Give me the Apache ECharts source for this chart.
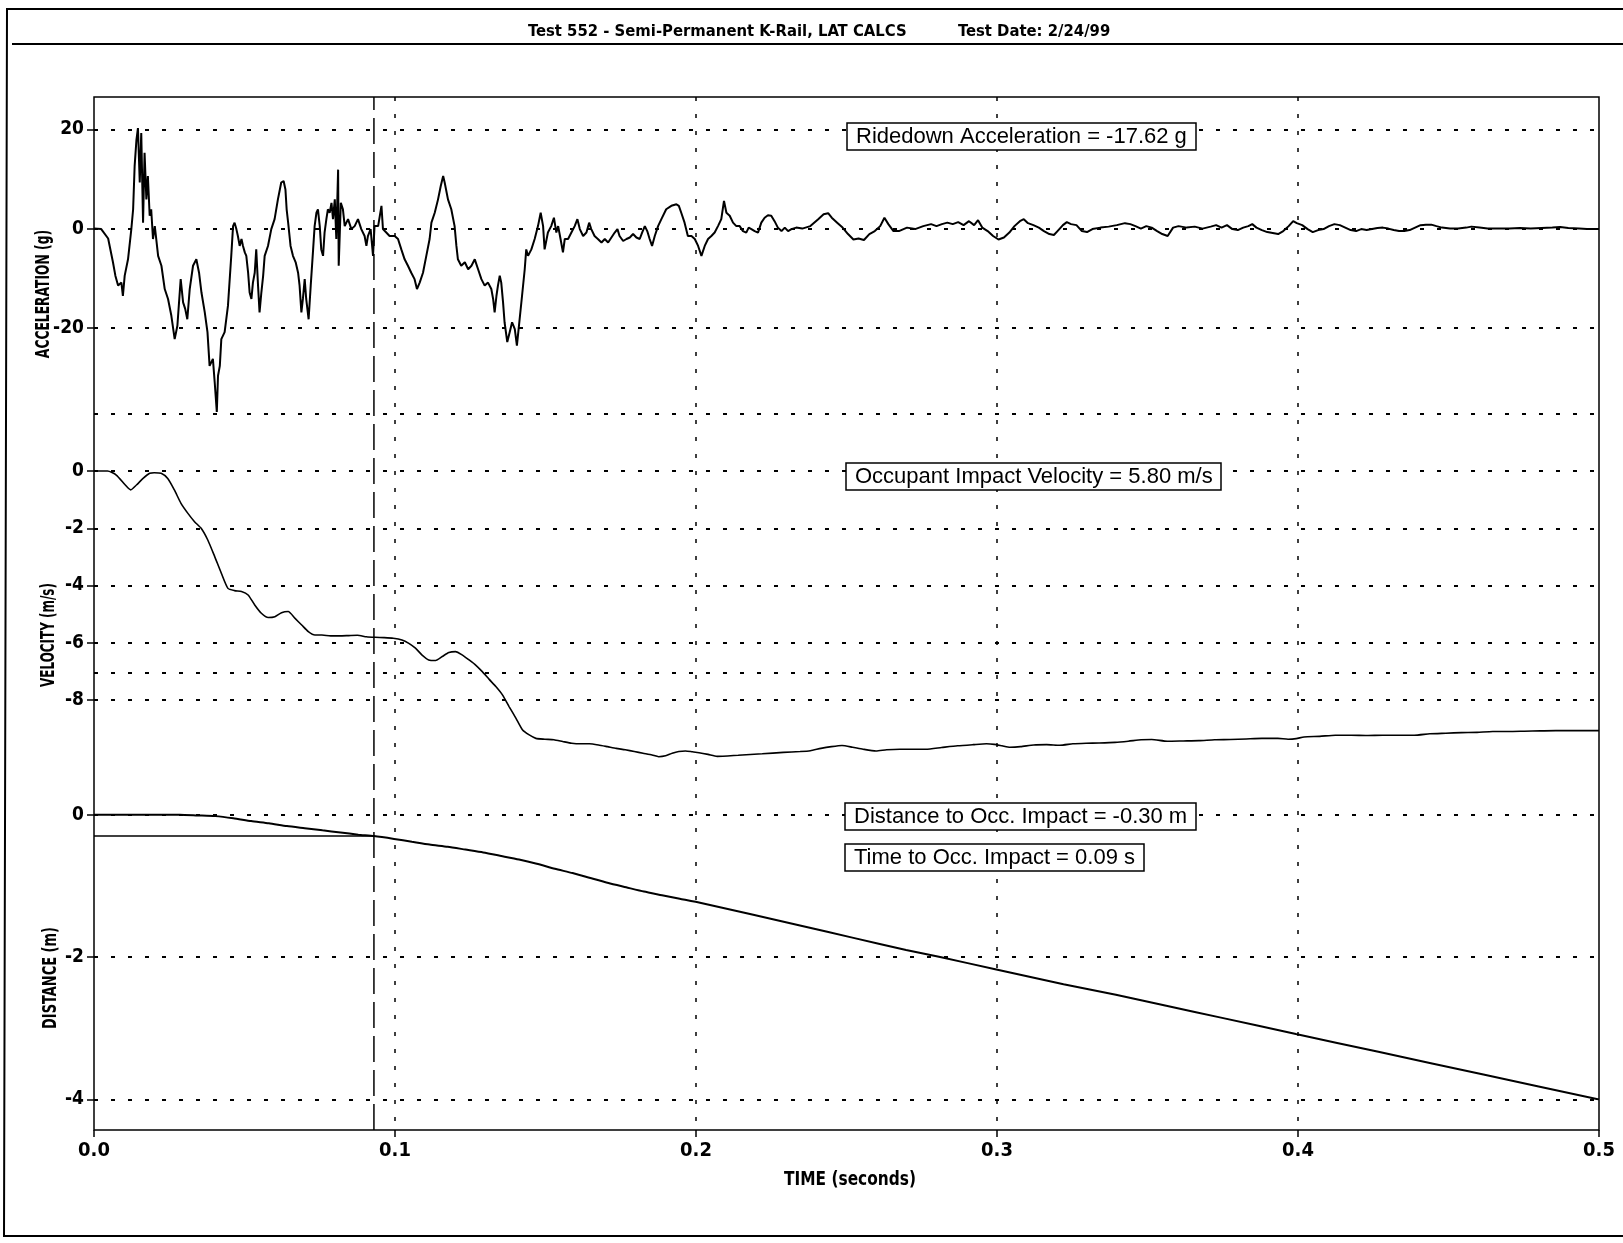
<!DOCTYPE html>
<html><head><meta charset="utf-8">
<script src="https://cdn.jsdelivr.net/npm/echarts@6/dist/echarts.min.js"></script>
<style>html,body{margin:0;padding:0;background:#fff}#chart{width:1623px;height:1243px}</style>
</head><body><div id="chart"></div>
<script>
// ---------- DATA ----------
const timeTicks = [0, 0.1, 0.2, 0.3, 0.4, 0.5];
const accTicks = [20, 0, -20];
const velTicks = [0, -2, -4, -6, -8];
const distTicks = [0, -2, -4];
const timeToImpact = 0.093;           // s (dashed vertical line)
const distanceToImpact = -0.30;       // m (horizontal reference line)

// Acceleration (g) vs time (s)
const accPoints = [
[0,0],[0.0024,-0.1],[0.0047,-2.0],[0.0063,-6.8],[0.0071,-9.5],[0.0080,-11.5],[0.0091,-10.9],[0.0096,-13.6],[0.0102,-9.5],[0.0113,-6.2],
[0.0124,-0.1],[0.0130,3.9],[0.0135,12.6],[0.0141,17.9],[0.0146,20.3],[0.0152,9.3],[0.0157,19.3],[0.0163,1.2],[0.0168,15.3],[0.0174,5.9],
[0.0179,10.6],[0.0185,2.6],[0.0190,3.9],[0.0196,-2.1],[0.0202,0.5],[0.0213,-5.5],[0.0224,-7.5],[0.0235,-12.2],[0.0246,-14.2],[0.0257,-17.6],
[0.0268,-22.3],[0.0277,-19.6],[0.0288,-10.2],[0.0296,-14.9],[0.0303,-16.2],[0.0310,-18.3],[0.0318,-12.2],[0.0329,-7.5],[0.0340,-6.2],[0.0349,-8.9],
[0.0357,-12.9],[0.0368,-16.9],[0.0377,-20.9],[0.0384,-27.7],[0.0395,-26.3],[0.0401,-31.0],[0.0408,-37.0],[0.0412,-29.7],[0.0418,-27.7],[0.0423,-22.3],
[0.0434,-20.9],[0.0445,-15.6],[0.0456,-5.5],[0.0462,0.5],[0.0467,1.2],[0.0473,-0.1],[0.0478,-1.5],[0.0484,-3.5],[0.0490,-2.1],[0.0495,-3.5],
[0.0501,-4.8],[0.0506,-5.5],[0.0512,-8.9],[0.0517,-12.9],[0.0523,-14.2],[0.0528,-10.9],[0.0534,-8.9],[0.0539,-4.2],[0.0545,-11.5],[0.0550,-16.9],
[0.0556,-12.9],[0.0562,-9.5],[0.0567,-5.5],[0.0573,-5.5],[0.0578,-3.5],[0.0589,-0.1],[0.0600,1.9],[0.0611,5.9],[0.0622,9.3],[0.0630,9.6],
[0.0636,7.9],[0.0640,3.9],[0.0645,1.2],[0.0653,-3.5],[0.0661,-5.5],[0.0670,-6.8],[0.0678,-8.9],[0.0683,-11.5],[0.0689,-16.9],[0.0694,-14.2],
[0.0700,-10.2],[0.0705,-14.2],[0.0713,-18.3],[0.0720,-11.5],[0.0728,-4.2],[0.0733,0.5],[0.0739,3.2],[0.0744,3.9],[0.0750,0.5],[0.0755,-4.2],
[0.0761,-5.5],[0.0766,-0.8],[0.0772,1.9],[0.0777,3.9],[0.0783,3.2],[0.0789,5.2],[0.0794,1.9],[0.0800,5.9],[0.0805,-2.1],[0.0811,11.9],
[0.0813,-7.5],[0.0820,5.2],[0.0827,3.9],[0.0833,0.5],[0.0844,1.9],[0.0855,-0.1],[0.0866,0.5],[0.0877,1.9],[0.0888,-0.1],[0.0899,-1.5],
[0.0905,-3.5],[0.0910,-1.5],[0.0919,-0.1],[0.0927,-5.5],[0.0932,0.5],
[0.0944,0.5],[0.0955,4.6],[0.0960,-0.1],[0.0971,-0.8],[0.0982,-1.5],[0.0999,-1.5],[0.1010,-2.1],[0.1021,-4.2],[0.1032,-6.2],[0.1043,-7.5],
[0.1054,-8.9],[0.1065,-10.2],[0.1073,-12.2],[0.1082,-10.9],[0.1093,-8.9],[0.1104,-5.5],[0.1115,-2.1],[0.1121,1.2],[0.1132,3.2],[0.1143,5.9],
[0.1152,8.6],[0.1160,10.6],[0.1165,9.3],[0.1176,5.9],[0.1187,3.9],[0.1198,0.5],[0.1204,-3.5],[0.1209,-6.2],[0.1220,-7.5],[0.1232,-6.8],
[0.1243,-8.2],[0.1254,-7.5],[0.1265,-6.2],[0.1276,-8.2],[0.1287,-10.2],[0.1298,-11.5],[0.1309,-10.9],[0.1320,-12.2],[0.1326,-14.2],[0.1331,-16.9],
[0.1337,-13.6],[0.1342,-11.5],[0.1348,-9.5],[0.1353,-10.9],[0.1359,-14.9],[0.1364,-18.9],[0.1373,-22.9],[0.1381,-20.9],[0.1389,-18.9],[0.1398,-20.3],
[0.1405,-23.6],[0.1414,-18.3],[0.1422,-13.6],[0.1431,-8.2],[0.1436,-4.2],[0.1442,-5.5],[0.1453,-4.2],[0.1464,-2.1],[0.1475,0.5],[0.1484,3.2],
[0.1492,0.5],[0.1497,-4.2],[0.1508,-0.8],[0.1519,0.5],[0.1528,2.2],[0.1536,-0.8],[0.1542,0.5],[0.1550,-2.1],[0.1558,-4.8],[0.1564,-2.1],
[0.1575,-2.1],[0.1586,-0.8],[0.1597,0.5],[0.1606,1.9],[0.1614,-0.1],[0.1625,-1.5],[0.1636,-0.8],[0.1645,1.2],[0.1652,-0.1],[0.1663,-1.5],
[0.1674,-2.1],[0.1686,-2.8],[0.1697,-2.1],[0.1708,-2.8],[0.1719,-1.8],[0.1730,-0.8],[0.1739,-0.1],[0.1746,-1.5],[0.1758,-2.5],[0.1769,-2.1],
[0.1780,-1.8],[0.1791,-1.1],[0.1802,-1.8],[0.1813,-2.1],[0.1821,-0.8],[0.1830,0.5],[0.1838,-0.5],[0.1846,-2.1],[0.1854,-3.5],[0.1863,-1.5],
[0.1874,0.5],[0.1885,1.9],[0.1901,3.9],[0.1918,4.6],[0.1935,4.9],[0.1943,4.6],[0.1951,3.2],[0.1962,1.2],[0.1973,-1.5],[0.1985,-1.5],
[0.1996,-2.1],[0.2007,-3.5],[0.2018,-5.5],[0.2029,-3.5],[0.2040,-2.1],[0.2051,-1.5],[0.2062,-0.8],[0.2073,0.5],[0.2084,1.9],[0.2093,5.6],
[0.2101,3.2],[0.2112,2.6],[0.2123,1.2],[0.2134,0.5],[0.2145,0.5],[0.2156,-0.5],[0.2167,-0.8],[0.2175,0.2],[0.2184,-0.1],[0.2195,-0.5],
[0.2206,-0.8],[0.2217,1.2],[0.2228,2.2],[0.2239,2.7],[0.2250,2.6],[0.2261,1.5],[0.2272,0.2],[0.2284,-0.5],[0.2295,0.2],[0.2306,-0.5],
[0.2317,-0.1],[0.2333,0.2],
[0.2353,0],[0.2380,0.5],[0.2406,1.9],[0.2424,2.9],[0.2439,3.1],[0.2451,2.2],[0.2469,1.2],[0.2487,0.2],[0.2505,-1.1],[0.2523,-2.2],
[0.2540,-2.0],[0.2558,-2.3],[0.2576,-1.1],[0.2594,-0.5],[0.2612,0.5],[0.2626,2.2],[0.2639,0.9],[0.2656,-0.5],[0.2674,-0.5],[0.2701,0.2],
[0.2728,-0.1],[0.2755,0.5],[0.2781,0.9],[0.2799,0.5],[0.2817,0.9],[0.2835,1.2],[0.2853,0.9],[0.2871,1.3],[0.2889,0.7],[0.2907,1.5],
[0.2924,0.7],[0.2937,1.7],[0.2951,0.2],[0.2969,-0.5],[0.2987,-1.5],[0.3005,-2.2],[0.3023,-1.8],[0.3041,-0.8],[0.3058,0.5],[0.3076,1.5],
[0.3089,1.9],[0.3103,1.1],[0.3121,0.7],[0.3139,0.2],[0.3156,-0.5],[0.3174,-1.1],[0.3189,-1.3],[0.3201,-0.5],[0.3219,0.7],[0.3232,1.3],
[0.3246,0.9],[0.3264,0.7],[0.3282,-0.5],[0.3299,-0.7],[0.3317,-0.1],[0.3344,0.2],[0.3371,0.4],[0.3398,0.7],[0.3425,1.1],[0.3443,0.9],
[0.3460,0.5],[0.3478,0],[0.3496,0.5],[0.3514,0.2],[0.3532,-0.5],[0.3549,-1.1],[0.3567,-1.5],[0.3585,0.2],[0.3603,0.5],[0.3630,0.2],
[0.3657,0.4],[0.3683,0],[0.3710,0.4],[0.3728,0.7],[0.3746,0.2],[0.3764,0.7],[0.3782,-0.1],[0.3800,-0.3],[0.3818,0.2],[0.3835,0.5],
[0.3848,0.9],[0.3862,0.2],[0.3880,-0.3],[0.3898,-0.7],[0.3916,-0.9],[0.3934,-1.1],[0.3951,-0.5],[0.3969,0.5],[0.3984,1.5],[0.3996,1.1],
[0.4014,0.7],[0.4032,-0.1],[0.4049,-0.7],[0.4067,-0.3],[0.4085,-0.1],[0.4103,0.5],[0.4121,0.9],[0.4139,0.7],[0.4157,0.2],[0.4175,-0.3],
[0.4193,-0.5],[0.4210,-0.1],[0.4228,-0.3],[0.4246,-0.1],[0.4264,0.1],[0.4282,0.2],[0.4300,0],[0.4318,-0.3],[0.4336,-0.5],[0.4353,-0.5],
[0.4371,-0.3],[0.4389,0.2],[0.4407,0.7],[0.4425,0.8],[0.4443,0.8],[0.4460,0.5],[0.4478,0.2],[0.4505,0],[0.4532,0],[0.4559,0.2],
[0.4576,0.4],[0.4603,0.2],[0.4630,0],[0.4666,0],[0.4702,0],[0.4737,0.1],[0.4773,0],[0.4809,0.1],[0.4845,0.2],[0.4871,0.3],
[0.4898,0.1],[0.4934,0],[0.4960,-0.1],[0.4986,-0.1],[0.5,-0.1]
];

// Velocity (m/s) vs time (s)
const velPoints = [
[0,0],[0.0045,0],[0.0074,-0.14],[0.0104,-0.49],[0.0122,-0.66],[0.0141,-0.49],[0.0163,-0.26],[0.0185,-0.08],[0.0200,-0.06],[0.0223,-0.08],
[0.0245,-0.26],[0.0267,-0.66],[0.0289,-1.13],[0.0312,-1.48],[0.0334,-1.77],[0.0356,-2.00],[0.0378,-2.41],[0.0401,-2.99],[0.0423,-3.57],[0.0445,-4.10],
[0.0467,-4.18],[0.0490,-4.21],[0.0512,-4.33],[0.0534,-4.68],[0.0556,-4.97],[0.0579,-5.12],[0.0601,-5.09],[0.0623,-4.95],[0.0645,-4.91],[0.0668,-5.15],
[0.0690,-5.38],[0.0712,-5.61],[0.0734,-5.73],[0.0757,-5.73],[0.0786,-5.76],[0.0816,-5.76],[0.0846,-5.75],[0.0875,-5.74],[0.0905,-5.79],[0.0934,-5.81],
[0.0964,-5.82],[0.0994,-5.84],[0.1023,-5.90],[0.1046,-6.02],[0.1068,-6.19],[0.1090,-6.43],[0.1112,-6.60],[0.1135,-6.62],[0.1157,-6.48],[0.1179,-6.34],
[0.1201,-6.31],[0.1224,-6.43],[0.1246,-6.60],[0.1268,-6.78],[0.1290,-7.01],[0.1313,-7.28],[0.1335,-7.53],[0.1357,-7.82],[0.1379,-8.23],[0.1402,-8.64],
[0.1424,-9.05],[0.1446,-9.22],[0.1468,-9.34],[0.1498,-9.37],[0.1528,-9.39],[0.1557,-9.45],[0.1587,-9.51],[0.1617,-9.53],[0.1646,-9.53],[0.1676,-9.57],
[0.1706,-9.63],[0.1735,-9.69],[0.1765,-9.74],[0.1795,-9.80],[0.1824,-9.86],[0.1854,-9.92],[0.1876,-9.98],[0.1899,-9.95],[0.1921,-9.86],[0.1943,-9.80],
[0.1965,-9.78],[0.1988,-9.81],[0.2010,-9.84],[0.2040,-9.90],[0.2070,-9.97],[0.2140,-9.93],[0.2220,-9.88],[0.2290,-9.83],
[0.2346,-9.80],[0.2380,-9.77],[0.2415,-9.69],[0.2450,-9.63],[0.2485,-9.59],[0.2520,-9.65],[0.2555,-9.72],[0.2598,-9.78],[0.2633,-9.74],[0.2677,-9.72],
[0.2721,-9.72],[0.2764,-9.72],[0.2816,-9.66],[0.2869,-9.60],[0.2921,-9.56],[0.2965,-9.53],[0.2991,-9.55],[0.3017,-9.60],[0.3043,-9.65],[0.3078,-9.63],
[0.3122,-9.57],[0.3165,-9.56],[0.3209,-9.58],[0.3252,-9.53],[0.3296,-9.51],[0.3339,-9.50],[0.3392,-9.48],[0.3436,-9.44],[0.3479,-9.39],[0.3514,-9.38],
[0.3566,-9.44],[0.3619,-9.43],[0.3671,-9.42],[0.3723,-9.39],[0.3775,-9.38],[0.3828,-9.36],[0.3880,-9.34],[0.3933,-9.34],[0.3967,-9.37],[0.3994,-9.35],
[0.4020,-9.29],[0.4072,-9.27],[0.4124,-9.23],[0.4177,-9.23],[0.4229,-9.24],[0.4281,-9.23],[0.4334,-9.23],[0.4386,-9.23],[0.4438,-9.18],[0.4491,-9.16],
[0.4543,-9.14],[0.4595,-9.13],[0.4647,-9.10],[0.4700,-9.10],[0.4752,-9.09],[0.4805,-9.08],[0.4857,-9.07],[0.4909,-9.07],[0.4961,-9.07],[0.5,-9.07]
];

// Distance (m) vs time (s)
const distPoints = [
[0,0],[0.0285,0],[0.0344,-0.01],[0.0403,-0.02],[0.0463,-0.05],[0.0522,-0.09],[0.0581,-0.12],[0.0641,-0.16],[0.0700,-0.19],[0.0759,-0.22],
[0.0819,-0.25],[0.0878,-0.28],[0.0930,-0.30],[0.0997,-0.34],[0.1056,-0.38],[0.1115,-0.42],[0.1175,-0.45],[0.1234,-0.49],[0.1293,-0.53],[0.1353,-0.58],
[0.1412,-0.63],[0.1471,-0.69],[0.1531,-0.76],[0.1590,-0.82],[0.1649,-0.89],[0.1709,-0.96],[0.1768,-1.02],[0.1827,-1.08],[0.1887,-1.13],[0.1946,-1.18],
[0.2017,-1.24],[0.2349,-1.56],[0.2523,-1.73],[0.2698,-1.90],[0.2811,-2.00],[0.2994,-2.17],[0.3221,-2.38],[0.3395,-2.53],[0.3570,-2.69],[0.3744,-2.85],
[0.3993,-3.08],[0.4267,-3.33],[0.4616,-3.65],[0.5,-4.00]
];

// ---------- CHART ----------
const NARROW = '"Liberation Sans Narrow","DejaVu Sans Condensed","Liberation Sans",Arial,sans-serif';
const REG = '"Liberation Sans",Arial,sans-serif';
const L = 94, R = 24;
const dotted = [4, 13];

const chart = echarts.init(document.getElementById('chart'), null, {renderer: 'canvas'});

// axis that only draws the horizontal grid lines of a panel
const gridLineAxis = (idx, min, max, interval, showMin) => ({
  gridIndex: idx, type: 'value', min: min, max: max, interval: interval,
  axisLine: {show: false}, axisTick: {show: false}, axisLabel: {show: false},
  splitLine: {show: true, showMinLine: showMin, showMaxLine: true, lineStyle: {color: '#000', width: 2, type: dotted}}
});
// axis that only draws the tick marks and labels of a panel
const labelAxis = (idx, min, max, interval, ticks) => ({
  gridIndex: idx, type: 'value', min: min, max: max, interval: interval, position: 'left',
  axisLine: {show: false},
  axisTick: {show: true, length: 7, customValues: ticks, lineStyle: {color: '#000', width: 1.5}},
  axisLabel: {customValues: ticks, margin: 10, color: '#000', fontFamily: NARROW, fontWeight: 'bold', fontSize: 19,
              formatter: v => ticks.indexOf(v) >= 0 ? String(v) : ''},
  splitLine: {show: false}
});

const boxTitle = (text, left, top) => ({
  text: text, left: left, top: top, padding: [2, 9, 2, 9],
  backgroundColor: '#fff', borderColor: '#000', borderWidth: 1.5,
  textStyle: {fontFamily: REG, fontWeight: 'normal', fontSize: 22, lineHeight: 23, color: '#000'}
});

const axisTitle = (text, x, y, rotated, sx) => ({
  type: 'text', x: x, y: y, rotation: rotated ? Math.PI / 2 : 0, scaleX: sx, z: 50,
  style: {text: text, font: 'bold 19px ' + NARROW, fill: '#000', align: 'center', verticalAlign: 'middle',
          textAlign: 'center', textVerticalAlign: 'middle'}
});

const option = {
  animation: false,
  backgroundColor: '#fff',
  title: [
    {text: 'Test 552 - Semi-Permanent K-Rail, LAT CALCS', left: 528, top: 23, padding: 0,
     textStyle: {fontFamily: NARROW, fontWeight: 'bold', fontSize: 16.5, lineHeight: 17, color: '#000'}},
    {text: 'Test Date: 2/24/99', left: 958, top: 23, padding: 0,
     textStyle: {fontFamily: NARROW, fontWeight: 'bold', fontSize: 16.5, lineHeight: 17, color: '#000'}},
    boxTitle('Ridedown Acceleration = -17.62 g', 847, 123),
    boxTitle('Occupant Impact Velocity = 5.80 m/s', 846, 463),
    boxTitle('Distance to Occ. Impact = -0.30 m', 845, 803),
    boxTitle('Time to Occ. Impact = 0.09 s', 845, 844)
  ],
  grid: [
    {left: L, right: R, top: 97, bottom: 113, show: true, borderColor: '#000', borderWidth: 1.5, backgroundColor: 'transparent', outerBoundsMode: 'none', containLabel: false},
    {left: L, right: R, top: 129.5, height: 297.3, outerBoundsMode: 'none', containLabel: false},
    {left: L, right: R, top: 413.75, height: 343.5, outerBoundsMode: 'none', containLabel: false},
    {left: L, right: R, top: 672.3, height: 427.2, outerBoundsMode: 'none', containLabel: false}
  ],
  xAxis: [
    {gridIndex: 0, type: 'value', min: 0, max: 0.5, interval: 0.1,
     axisLine: {show: false},
     axisTick: {show: true, length: 7, customValues: timeTicks, lineStyle: {color: '#000', width: 1.5}},
     axisLabel: {customValues: timeTicks, margin: 11, color: '#000', fontFamily: NARROW, fontWeight: 'bold', fontSize: 20,
                 formatter: v => Number(v).toFixed(1)},
     splitLine: {show: true, showMinLine: false, showMaxLine: false, lineStyle: {color: '#000', width: 1.5, type: dotted}}},
    {gridIndex: 1, type: 'value', min: 0, max: 0.5, show: false},
    {gridIndex: 2, type: 'value', min: 0, max: 0.5, show: false},
    {gridIndex: 3, type: 'value', min: 0, max: 0.5, show: false}
  ],
  yAxis: [
    {gridIndex: 0, type: 'value', min: 0, max: 1, show: false},
    gridLineAxis(1, -40, 20, 20, false),
    gridLineAxis(2, -10, 2, 2, false),
    gridLineAxis(3, -4, 2, 2, true),
    labelAxis(1, -40, 20, 20, accTicks),
    labelAxis(2, -10, 2, 2, velTicks),
    labelAxis(3, -4, 2, 2, distTicks)
  ],
  graphic: [
    {type: 'polyline', z: 100, shape: {points: [[1623, 9], [7, 9], [4, 1236], [1623, 1236]]}, style: {stroke: '#000', lineWidth: 2, fill: null}},
    {type: 'line', z: 100, shape: {x1: 12, y1: 44, x2: 1623, y2: 44}, style: {stroke: '#000', lineWidth: 2}},
    axisTitle('ACCELERATION (g)', 44, 294, true, 0.72),
    axisTitle('VELOCITY (m/s)', 49, 635, true, 0.70),
    axisTitle('DISTANCE (m)', 51, 978, true, 0.76),
    axisTitle('TIME (seconds)', 850, 1180, false, 0.9)
  ],
  series: [
    {name: 'impactTime', type: 'line', xAxisIndex: 0, yAxisIndex: 0, showSymbol: false, silent: true,
     data: [[timeToImpact, 0], [timeToImpact, 1]], lineStyle: {color: '#000', width: 1.5, type: [26, 8]}},
    {name: 'acc', type: 'line', xAxisIndex: 1, yAxisIndex: 1, showSymbol: false, clip: false, silent: true,
     data: accPoints, lineStyle: {color: '#000', width: 2}},
    {name: 'vel', type: 'line', xAxisIndex: 2, yAxisIndex: 2, showSymbol: false, smooth: 0.2, silent: true,
     data: velPoints, lineStyle: {color: '#000', width: 1.6}},
    {name: 'dist', type: 'line', xAxisIndex: 3, yAxisIndex: 3, showSymbol: false, smooth: 0.2, silent: true,
     data: distPoints, lineStyle: {color: '#000', width: 2}},
    {name: 'distImpact', type: 'line', xAxisIndex: 3, yAxisIndex: 3, showSymbol: false, silent: true,
     data: [[0, distanceToImpact], [timeToImpact, distanceToImpact]], lineStyle: {color: '#000', width: 1.5}}
  ]
};
chart.setOption(option);
</script>
</body></html>
